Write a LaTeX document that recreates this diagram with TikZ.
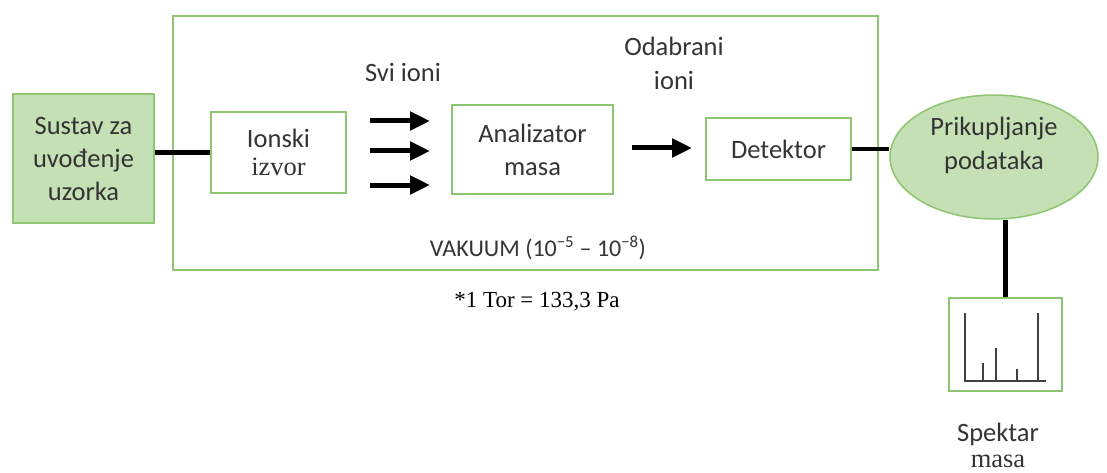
\documentclass[tikz,border=0pt]{standalone}
\usepackage{fontspec}
\setmainfont{Carlito}
\newfontfamily\timesf{Liberation Serif}
\usetikzlibrary{arrows.meta,shapes.geometric}
\definecolor{gline}{RGB}{140,198,112}
\definecolor{gfill}{RGB}{197,224,180}
\definecolor{txt}{RGB}{52,52,52}
\begin{document}
\begin{tikzpicture}[x=1pt,y=-1pt,
  box/.style={draw=gline,line width=2pt,fill=white,inner sep=0pt,align=center,text=txt,font=\fontsize{26.5}{33}\selectfont},
  conn/.style={line width=4.5pt,black},
  arr/.style={line width=5pt,black,-{Triangle[length=20pt,width=18pt]}},
  lbl/.style={text=txt,align=center,inner sep=0pt,font=\fontsize{26.5}{34}\selectfont},
  spk/.style={line width=2pt,black!75}]
\useasboundingbox (0,0) rectangle (1107,473);
% vacuum enclosure
\node[draw=gline,line width=2pt,minimum width=705pt,minimum height=254pt,inner sep=0pt] (vac) at (525.5,143) {};
% boxes
\node[box,fill=gfill,minimum width=141pt,minimum height=129pt] (sus) at (83.5,158.5) {Sustav za\\uvođenje\\uzorka};
\node[box,minimum width=135pt,minimum height=81pt] (ion) at (278.5,152.5) {Ionski\\[-5pt]{\timesf izvor}};
\node[box,minimum width=161pt,minimum height=89pt] (ana) at (532.5,149.5) {Analizator\\masa};
\node[box,minimum width=145pt,minimum height=62pt] (det) at (778.5,149) {Detektor};
\node[draw=gline,line width=1.5pt,fill=gfill,ellipse,minimum width=208pt,minimum height=124pt,inner sep=0pt] (dat) at (994,157) {};
\node[lbl] (datl) at (994,145) {Prikupljanje\\podataka};
\node[draw=gline,line width=2pt,fill=white,minimum width=113pt,minimum height=93pt,inner sep=0pt] (spec) at (1005.5,344.5) {};
% labels
\node[lbl] (svi) at (403,72) {Svi ioni};
\node[lbl] (oda) at (674,63) {Odabrani\\ioni};
\node[lbl,font=\fontsize{24}{30}\selectfont] (vakl) at (538,248) {VAKUUM (10\textsuperscript{−5} – 10\textsuperscript{−8})};
\node[inner sep=0pt,font=\timesf\fontsize{23}{28}\selectfont] (tor) at (537,302) {*1 Tor = 133,3 Pa};
\node[lbl,font=\fontsize{26.5}{26}\selectfont] (spm) at (998,445) {Spektar\\{\timesf masa}};
% connectors
\draw[conn] (ion.west -| sus.east) -- (ion.west);
\draw[conn] (det.east) -- (det.east -| dat.west);
\draw[conn] (spec.north |- dat.south) -- (spec.north);
% ion arrows
\coordinate (a1s) at (370,121); \coordinate (a1e) at (430,121);
\coordinate (a2s) at (370,151); \coordinate (a2e) at (430,151);
\coordinate (a3s) at (370,185); \coordinate (a3e) at (430,185);
\coordinate (a4s) at (632,148); \coordinate (a4e) at (692,148);
\draw[arr] (a1s) -- (a1e);
\draw[arr] (a2s) -- (a2e);
\draw[arr] (a3s) -- (a3e);
\draw[arr] (a4s) -- (a4e);
% spectrum
\draw[spk] (965,313) -- (965,381) -- (1046,381);
\draw[spk] (983,381) -- (983,363);
\draw[spk] (996,381) -- (996,348);
\draw[spk] (1017,381) -- (1017,369);
\draw[spk] (1038,381) -- (1038,313);
\end{tikzpicture}
\end{document}
